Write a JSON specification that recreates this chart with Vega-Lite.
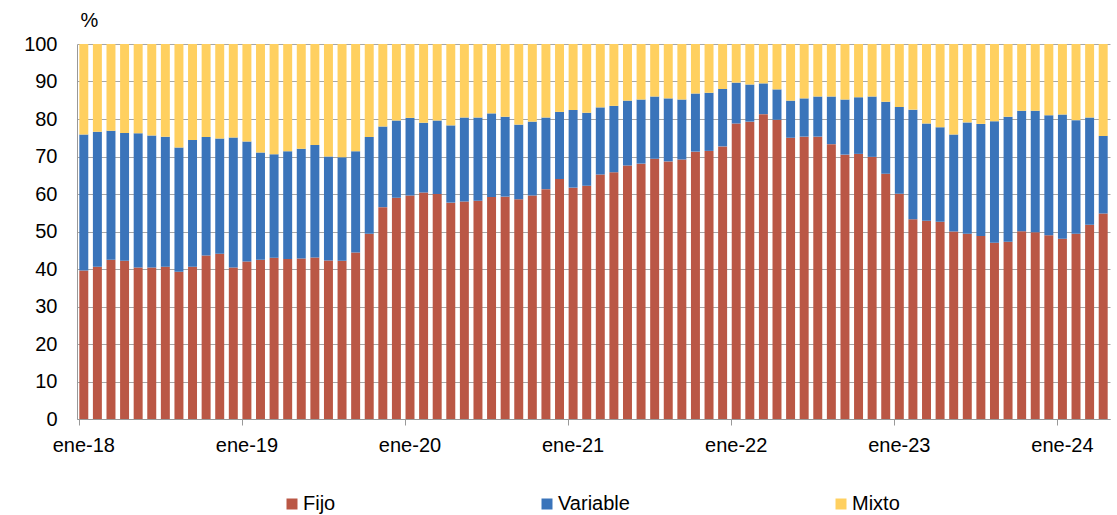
{
  "$schema": "https://vega.github.io/schema/vega-lite/v6.json",
  "width": 1033,
  "height": 375,
  "autosize": {"type": "none"},
  "padding": {"left": 77, "top": 44, "right": 7, "bottom": 96},
  "background": "white",
  "config": {
    "font": "Liberation Sans",
    "view": {"stroke": null},
    "axis": {"labelColor": "#000000", "titleColor": "#000000", "labelFont": "Liberation Sans", "titleFont": "Liberation Sans"},
    "legend": {"labelColor": "#000000", "labelFont": "Liberation Sans"}
  },
  "data": {
    "values": [
      {"mes": "2018-01", "Fijo": 39.6, "Variable": 36.3, "Mixto": 24.1},
      {"mes": "2018-02", "Fijo": 40.6, "Variable": 36.0, "Mixto": 23.4},
      {"mes": "2018-03", "Fijo": 42.5, "Variable": 34.4, "Mixto": 23.1},
      {"mes": "2018-04", "Fijo": 42.2, "Variable": 34.1, "Mixto": 23.7},
      {"mes": "2018-05", "Fijo": 40.4, "Variable": 35.8, "Mixto": 23.8},
      {"mes": "2018-06", "Fijo": 40.4, "Variable": 35.2, "Mixto": 24.4},
      {"mes": "2018-07", "Fijo": 40.6, "Variable": 34.7, "Mixto": 24.7},
      {"mes": "2018-08", "Fijo": 39.3, "Variable": 33.1, "Mixto": 27.6},
      {"mes": "2018-09", "Fijo": 40.6, "Variable": 33.8, "Mixto": 25.6},
      {"mes": "2018-10", "Fijo": 43.6, "Variable": 31.6, "Mixto": 24.8},
      {"mes": "2018-11", "Fijo": 44.1, "Variable": 30.7, "Mixto": 25.2},
      {"mes": "2018-12", "Fijo": 40.4, "Variable": 34.7, "Mixto": 24.9},
      {"mes": "2019-01", "Fijo": 42.0, "Variable": 32.0, "Mixto": 26.0},
      {"mes": "2019-02", "Fijo": 42.5, "Variable": 28.6, "Mixto": 28.9},
      {"mes": "2019-03", "Fijo": 43.0, "Variable": 27.6, "Mixto": 29.4},
      {"mes": "2019-04", "Fijo": 42.7, "Variable": 28.7, "Mixto": 28.6},
      {"mes": "2019-05", "Fijo": 42.8, "Variable": 29.3, "Mixto": 27.9},
      {"mes": "2019-06", "Fijo": 43.1, "Variable": 30.0, "Mixto": 26.9},
      {"mes": "2019-07", "Fijo": 42.3, "Variable": 27.7, "Mixto": 30.0},
      {"mes": "2019-08", "Fijo": 42.2, "Variable": 27.6, "Mixto": 30.2},
      {"mes": "2019-09", "Fijo": 44.4, "Variable": 27.0, "Mixto": 28.6},
      {"mes": "2019-10", "Fijo": 49.4, "Variable": 25.8, "Mixto": 24.8},
      {"mes": "2019-11", "Fijo": 56.5, "Variable": 21.5, "Mixto": 22.0},
      {"mes": "2019-12", "Fijo": 59.0, "Variable": 20.6, "Mixto": 20.4},
      {"mes": "2020-01", "Fijo": 59.6, "Variable": 20.7, "Mixto": 19.7},
      {"mes": "2020-02", "Fijo": 60.4, "Variable": 18.6, "Mixto": 21.0},
      {"mes": "2020-03", "Fijo": 60.0, "Variable": 19.6, "Mixto": 20.4},
      {"mes": "2020-04", "Fijo": 57.7, "Variable": 20.6, "Mixto": 21.7},
      {"mes": "2020-05", "Fijo": 58.0, "Variable": 22.4, "Mixto": 19.6},
      {"mes": "2020-06", "Fijo": 58.2, "Variable": 22.2, "Mixto": 19.6},
      {"mes": "2020-07", "Fijo": 59.2, "Variable": 22.3, "Mixto": 18.5},
      {"mes": "2020-08", "Fijo": 59.3, "Variable": 21.3, "Mixto": 19.4},
      {"mes": "2020-09", "Fijo": 58.6, "Variable": 19.9, "Mixto": 21.5},
      {"mes": "2020-10", "Fijo": 59.6, "Variable": 19.7, "Mixto": 20.7},
      {"mes": "2020-11", "Fijo": 61.3, "Variable": 19.1, "Mixto": 19.6},
      {"mes": "2020-12", "Fijo": 64.0, "Variable": 17.9, "Mixto": 18.1},
      {"mes": "2021-01", "Fijo": 61.7, "Variable": 20.7, "Mixto": 17.6},
      {"mes": "2021-02", "Fijo": 62.2, "Variable": 19.5, "Mixto": 18.3},
      {"mes": "2021-03", "Fijo": 65.2, "Variable": 17.9, "Mixto": 16.9},
      {"mes": "2021-04", "Fijo": 65.8, "Variable": 17.7, "Mixto": 16.5},
      {"mes": "2021-05", "Fijo": 67.6, "Variable": 17.3, "Mixto": 15.1},
      {"mes": "2021-06", "Fijo": 68.1, "Variable": 17.1, "Mixto": 14.8},
      {"mes": "2021-07", "Fijo": 69.4, "Variable": 16.6, "Mixto": 14.0},
      {"mes": "2021-08", "Fijo": 68.7, "Variable": 16.8, "Mixto": 14.5},
      {"mes": "2021-09", "Fijo": 69.2, "Variable": 16.0, "Mixto": 14.8},
      {"mes": "2021-10", "Fijo": 71.3, "Variable": 15.5, "Mixto": 13.2},
      {"mes": "2021-11", "Fijo": 71.5, "Variable": 15.5, "Mixto": 13.0},
      {"mes": "2021-12", "Fijo": 72.7, "Variable": 15.3, "Mixto": 12.0},
      {"mes": "2022-01", "Fijo": 78.8, "Variable": 10.9, "Mixto": 10.3},
      {"mes": "2022-02", "Fijo": 79.3, "Variable": 9.9, "Mixto": 10.8},
      {"mes": "2022-03", "Fijo": 81.3, "Variable": 8.2, "Mixto": 10.5},
      {"mes": "2022-04", "Fijo": 79.8, "Variable": 8.1, "Mixto": 12.1},
      {"mes": "2022-05", "Fijo": 75.0, "Variable": 9.9, "Mixto": 15.1},
      {"mes": "2022-06", "Fijo": 75.3, "Variable": 10.2, "Mixto": 14.5},
      {"mes": "2022-07", "Fijo": 75.3, "Variable": 10.7, "Mixto": 14.0},
      {"mes": "2022-08", "Fijo": 73.3, "Variable": 12.7, "Mixto": 14.0},
      {"mes": "2022-09", "Fijo": 70.5, "Variable": 14.7, "Mixto": 14.8},
      {"mes": "2022-10", "Fijo": 70.7, "Variable": 15.1, "Mixto": 14.2},
      {"mes": "2022-11", "Fijo": 69.9, "Variable": 16.1, "Mixto": 14.0},
      {"mes": "2022-12", "Fijo": 65.4, "Variable": 19.2, "Mixto": 15.4},
      {"mes": "2023-01", "Fijo": 60.1, "Variable": 23.1, "Mixto": 16.8},
      {"mes": "2023-02", "Fijo": 53.3, "Variable": 29.2, "Mixto": 17.5},
      {"mes": "2023-03", "Fijo": 52.9, "Variable": 25.9, "Mixto": 21.2},
      {"mes": "2023-04", "Fijo": 52.6, "Variable": 25.2, "Mixto": 22.2},
      {"mes": "2023-05", "Fijo": 50.0, "Variable": 25.9, "Mixto": 24.1},
      {"mes": "2023-06", "Fijo": 49.4, "Variable": 29.7, "Mixto": 20.9},
      {"mes": "2023-07", "Fijo": 48.8, "Variable": 29.9, "Mixto": 21.3},
      {"mes": "2023-08", "Fijo": 47.0, "Variable": 32.4, "Mixto": 20.6},
      {"mes": "2023-09", "Fijo": 47.3, "Variable": 33.3, "Mixto": 19.4},
      {"mes": "2023-10", "Fijo": 50.1, "Variable": 32.1, "Mixto": 17.8},
      {"mes": "2023-11", "Fijo": 49.8, "Variable": 32.4, "Mixto": 17.8},
      {"mes": "2023-12", "Fijo": 49.0, "Variable": 32.0, "Mixto": 19.0},
      {"mes": "2024-01", "Fijo": 48.1, "Variable": 33.1, "Mixto": 18.8},
      {"mes": "2024-02", "Fijo": 49.4, "Variable": 30.3, "Mixto": 20.3},
      {"mes": "2024-03", "Fijo": 51.8, "Variable": 28.6, "Mixto": 19.6},
      {"mes": "2024-04", "Fijo": 54.8, "Variable": 20.7, "Mixto": 24.5}
    ]
  },
  "transform": [
    {"fold": ["Fijo", "Variable", "Mixto"], "as": ["tipo", "valor"]},
    {"calculate": "indexof(['Fijo','Variable','Mixto'], datum.tipo)", "as": "orden"}
  ],
  "mark": {"type": "bar"},
  "encoding": {
    "x": {
      "field": "mes",
      "type": "ordinal",
      "scale": {"paddingInner": 0.34, "paddingOuter": 0.17},
      "axis": {
        "values": ["2018-01", "2019-01", "2020-01", "2021-01", "2022-01", "2023-01", "2024-01"],
        "labelExpr": "'ene-' + substring(datum.value, 2, 4)",
        "bandPosition": 0,
        "title": null,
        "labelAngle": 0,
        "labelFontSize": 20,
        "labelPadding": 10,
        "tickSize": 6,
        "tickColor": "#999999",
        "domainColor": "#999999",
        "grid": false
      }
    },
    "y": {
      "field": "valor",
      "type": "quantitative",
      "stack": "zero",
      "scale": {"domain": [0, 100], "nice": false},
      "axis": {
        "values": [0, 10, 20, 30, 40, 50, 60, 70, 80, 90, 100],
        "title": "%",
        "titleAngle": 0,
        "titleX": 12,
        "titleY": -24,
        "titleAlign": "center",
        "titleBaseline": "middle",
        "titleFontSize": 20,
        "titleFontWeight": "normal",
        "labelFontSize": 20,
        "labelPadding": 20,
        "ticks": false,
        "grid": true,
        "gridColor": "#A6A6A6",
        "gridWidth": 1,
        "domainColor": "#999999"
      }
    },
    "color": {
      "field": "tipo",
      "type": "nominal",
      "scale": {"domain": ["Fijo", "Variable", "Mixto"], "range": ["#BA5745", "#3A74BA", "#FFD060"]},
      "legend": {
        "orient": "none",
        "legendX": 205,
        "legendY": 450,
        "direction": "horizontal",
        "title": null,
        "symbolType": "square",
        "symbolSize": 121,
        "symbolStrokeWidth": 0,
        "symbolOpacity": 1,
        "labelFontSize": 20,
        "labelOffset": 1,
        "columnPadding": 201
      }
    },
    "order": {"field": "orden", "type": "quantitative"}
  }
}
